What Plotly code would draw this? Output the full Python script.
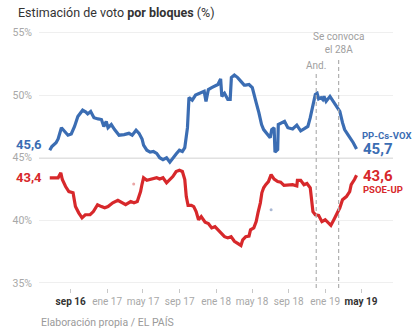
import plotly.graph_objects as go

# ---- data ----
blue_dates = ["2016-06-23","2016-06-30","2016-07-14","2016-07-21","2016-08-01","2016-08-12","2016-08-23","2016-09-03","2016-09-14","2016-09-25",
"2016-10-11","2016-10-22","2016-10-28","2016-11-07","2016-11-18","2016-12-02","2016-12-13","2016-12-21","2016-12-29","2017-01-04",
"2017-01-15","2017-01-26","2017-02-10","2017-02-27","2017-03-15","2017-03-26","2017-04-08","2017-04-18","2017-04-28","2017-05-03",
"2017-05-14","2017-05-25","2017-06-05","2017-06-16","2017-06-26","2017-07-07","2017-07-19","2017-07-30","2017-08-09","2017-08-20",
"2017-08-31","2017-09-10","2017-09-18","2017-09-23","2017-09-27","2017-10-02","2017-10-13","2017-10-24","2017-11-04","2017-11-15",
"2017-11-22","2017-11-28","2017-12-06","2017-12-17","2017-12-28","2018-01-07","2018-01-16","2018-01-20","2018-01-29","2018-02-09",
"2018-02-17","2018-02-21","2018-03-03","2018-03-14","2018-03-25","2018-04-05","2018-04-10","2018-04-21","2018-05-02","2018-05-07",
"2018-05-15","2018-05-24","2018-06-02","2018-06-09","2018-06-20","2018-07-01","2018-07-06","2018-07-14","2018-07-17","2018-07-26",
"2018-07-28","2018-08-07","2018-08-18","2018-08-29","2018-09-14","2018-09-28","2018-10-11","2018-10-22","2018-11-04","2018-11-12",
"2018-11-21","2018-11-29","2018-12-05","2018-12-10","2018-12-18","2018-12-24","2018-12-28","2019-01-04","2019-01-17","2019-01-28",
"2019-02-08","2019-02-19","2019-02-28","2019-03-07","2019-03-18","2019-03-29","2019-04-05","2019-04-16"]
blue_values = [45.6,45.9,46.2,46.5,47.4,47.05,46.8,46.9,47.5,48.3,
48.8,48.65,48.5,48.7,48.2,48.1,48.05,47.5,47.9,47.4,
47.65,47.25,46.8,46.85,46.95,46.8,47.2,46.95,46.5,46.0,
45.6,45.45,45.5,45.35,45.0,44.85,45.0,44.65,45.0,45.3,
45.6,45.5,45.8,46.7,47.4,49.8,49.6,50.0,50.1,50.2,
50.3,49.5,50.45,50.6,50.7,50.85,51.3,49.9,50.15,49.65,
49.65,51.4,51.6,51.4,51.1,50.8,50.8,50.85,50.6,50.2,
49.4,48.6,47.65,47.25,46.95,46.6,47.25,47.4,45.45,45.65,
47.65,47.75,47.9,47.4,47.3,47.6,47.15,47.3,47.5,48.2,
49.1,50.05,50.15,49.7,49.8,49.65,49.9,49.5,49.9,49.5,
49.1,48.7,47.8,47.25,46.85,46.5,46.2,45.7]

red_dates = ["2016-06-23","2016-07-08","2016-07-21","2016-07-30","2016-08-04","2016-08-15","2016-08-26","2016-09-09","2016-09-17","2016-09-28",
"2016-10-09","2016-10-20","2016-11-05","2016-11-16","2016-11-30","2016-12-13","2016-12-24","2017-01-04","2017-01-20","2017-02-06",
"2017-02-16","2017-03-04","2017-03-21","2017-04-01","2017-04-12","2017-04-23","2017-04-28","2017-05-03","2017-05-14","2017-05-25",
"2017-06-05","2017-06-16","2017-06-26","2017-07-07","2017-07-19","2017-07-30","2017-08-09","2017-08-20","2017-08-31","2017-09-10",
"2017-09-18","2017-09-23","2017-09-29","2017-10-10","2017-10-18","2017-10-26","2017-11-03","2017-11-12","2017-11-20","2017-11-25",
"2017-12-06","2017-12-17","2017-12-28","2018-01-07","2018-01-18","2018-01-29","2018-02-09","2018-02-20","2018-03-03","2018-03-14",
"2018-03-25","2018-03-31","2018-04-10","2018-04-21","2018-04-26","2018-05-07","2018-05-15","2018-05-21","2018-05-29","2018-06-03",
"2018-06-09","2018-06-16","2018-06-25","2018-07-04","2018-07-14","2018-07-26","2018-08-05","2018-08-16","2018-08-29","2018-09-14",
"2018-09-28","2018-09-30","2018-10-11","2018-10-22","2018-11-01","2018-11-12","2018-11-21","2018-11-29","2018-12-10","2018-12-21",
"2019-01-01","2019-01-12","2019-01-20","2019-01-30","2019-02-08","2019-02-19","2019-02-28","2019-03-13","2019-03-24","2019-03-29",
"2019-04-09","2019-04-16"]
red_values = [43.4,43.4,43.4,43.8,43.26,42.7,42.3,42.2,41.1,40.6,
40.2,40.45,40.45,40.7,41.25,41.1,41.0,41.1,41.4,41.6,
41.45,41.25,41.5,41.4,41.5,42.3,42.9,43.4,43.2,43.26,
43.3,43.4,43.3,43.4,43.0,43.26,43.5,43.9,44.0,43.9,
43.26,41.9,41.2,41.2,41.1,40.7,40.05,40.3,40.05,39.85,
39.75,39.4,39.5,39.25,39.05,38.7,38.6,38.7,38.33,38.15,
38.0,38.45,38.7,38.75,39.25,39.4,39.9,40.6,41.4,42.2,
42.6,42.85,43.1,43.65,43.3,43.1,43.05,42.8,42.85,42.85,
42.75,43.2,43.2,42.85,42.95,42.6,40.7,40.45,40.4,39.9,
40.05,39.8,39.6,40.05,40.45,41.0,41.65,41.9,42.3,42.85,
43.26,43.6]

stray_dates = ["2017-03-31", "2018-07-04"]
stray_values = [42.9, 40.85]
stray_colors = ["#eaa6a6", "#a9b8d4"]

event_dates = ["2018-12-02", "2019-02-15"]
event_labels = ["And.", "Se convoca<br>el 28A"]

tick_vals = ["2016-09-01","2017-01-01","2017-05-01","2017-09-01","2018-01-01","2018-05-01","2018-09-01","2019-01-01","2019-05-01"]
tick_text = ["sep 16","ene 17","may 17","sep 17","ene 18","may 18","sep 18","ene 19","may 19"]
bold_ticks = {"sep 16", "may 19"}

y_ticks = [35, 40, 45, 50, 55]

BLUE = "#3b6db3"
RED = "#d7282b"
FONT = "Roboto"

ticktext_fmt = [f"<b>{t}</b>" if t in bold_ticks else f"<span style='color:#a8a8a8'>{t}</span>" for t in tick_text]

fig = go.Figure()
fig.add_trace(go.Scatter(x=blue_dates, y=blue_values, mode="lines",
                         line=dict(color=BLUE, width=3.2), hoverinfo="skip"))
fig.add_trace(go.Scatter(x=red_dates, y=red_values, mode="lines",
                         line=dict(color=RED, width=3.2), hoverinfo="skip"))
fig.add_trace(go.Scatter(x=stray_dates, y=stray_values, mode="markers",
                         marker=dict(color=stray_colors, size=3), hoverinfo="skip"))

# 45% reference line
fig.add_shape(type="line", xref="paper", x0=0, x1=1, yref="y", y0=45, y1=45,
              line=dict(color="#c4c4c4", width=1.5), layer="below")

# event lines
for d, lab, ytop in zip(event_dates, event_labels, [51.7, 53.0]):
    fig.add_shape(type="line", xref="x", x0=d, x1=d, yref="y", y0=34.6, y1=ytop,
                  line=dict(color="#b0b0b0", width=1.2, dash="4px,3px"))
    fig.add_annotation(x=d, y=ytop, xref="x", yref="y", text=lab, showarrow=False,
                       yanchor="bottom", xanchor="center", yshift=1,
                       font=dict(family=FONT, size=10, color="#a0a0a0"))

# start / end labels
fig.add_annotation(x=blue_dates[0], y=blue_values[0], text=f"<b>{str(blue_values[0]).replace('.', ',')}</b>",
                   showarrow=False, xanchor="right", xshift=-6, yshift=6,
                   font=dict(family=FONT, size=13, color=BLUE))
fig.add_annotation(x=red_dates[0], y=red_values[0], text=f"<b>{str(red_values[0]).replace('.', ',')}</b>",
                   showarrow=False, xanchor="right", xshift=-6, yshift=0,
                   font=dict(family=FONT, size=13, color=RED))
fig.add_annotation(x=blue_dates[-1], y=blue_values[-1], text=f"<b>{str(blue_values[-1]).replace('.', ',')}</b>",
                   showarrow=False, xanchor="left", xshift=4, yshift=0,
                   font=dict(family=FONT, size=15, color=BLUE))
fig.add_annotation(x=blue_dates[-1], y=blue_values[-1], text="<b>PP-Cs-VOX</b>",
                   showarrow=False, xanchor="left", xshift=3, yshift=13,
                   font=dict(family=FONT, size=9.5, color=BLUE))
fig.add_annotation(x=red_dates[-1], y=red_values[-1], text=f"<b>{str(red_values[-1]).replace('.', ',')}</b>",
                   showarrow=False, xanchor="left", xshift=4, yshift=-1,
                   font=dict(family=FONT, size=15, color=RED))
fig.add_annotation(x=red_dates[-1], y=red_values[-1], text="<b>PSOE-UP</b>",
                   showarrow=False, xanchor="left", xshift=4, yshift=-14,
                   font=dict(family=FONT, size=9.5, color=RED))

# title and source
fig.add_annotation(xref="paper", yref="paper", x=-0.066, y=1.0, yshift=18, xanchor="left", yanchor="middle",
                   text="Estimación de voto <b>por bloques</b> (%)", showarrow=False,
                   font=dict(family=FONT, size=12.5, color="#333333"))
fig.add_annotation(xref="paper", yref="paper", x=0.0, y=0, yshift=-34, xanchor="left", yanchor="middle",
                   text="Elaboración propia / EL PAÍS", showarrow=False,
                   font=dict(family=FONT, size=10.5, color="#9a9a9a"))

fig.update_layout(
    width=414, height=333,
    margin=dict(l=29, r=21, t=30, b=45),
    plot_bgcolor="white", paper_bgcolor="white",
    showlegend=False,
    font=dict(family=FONT, size=10, color="#333"),
    xaxis=dict(range=["2016-05-18", "2019-08-16"], tickvals=tick_vals, ticktext=ticktext_fmt,
               showgrid=False, zeroline=False, showline=False, tickangle=0,
               ticks="outside", ticklen=4, tickcolor="#c8c8c8", tickwidth=1,
               tickfont=dict(family=FONT, size=10, color="#333")),
    yaxis=dict(range=[34.6, 55.2], tickvals=y_ticks, ticktext=[f"{v}%" for v in y_ticks],
               showgrid=True, gridcolor="#efefef", gridwidth=1, zeroline=False, showline=False,
               ticks="", ticklabelstandoff=6,
               tickfont=dict(family=FONT, size=10.5, color="#a8a8a8")),
)

fig.write_html("out.html")
